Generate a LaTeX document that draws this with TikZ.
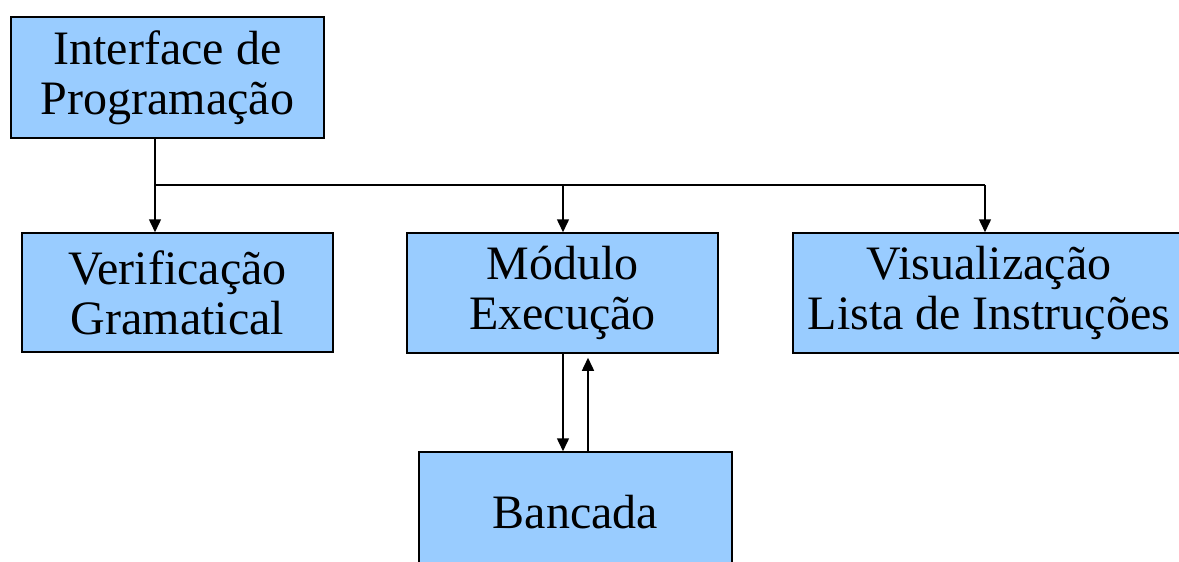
\documentclass[tikz,border=0pt]{standalone}
\usepackage{fontspec}
\setmainfont{Liberation Serif}
\usetikzlibrary{arrows.meta}
\definecolor{boxblue}{HTML}{99CCFF}
\begin{document}
\begin{tikzpicture}[x=1pt,y=-1pt,
  block/.style={draw=black, line width=1.5pt, fill=boxblue, align=center,
    font=\fontsize{48}{50}\selectfont, inner sep=0pt},
  link/.style={line width=1.5pt, -{Triangle[width=12pt,length=13pt]}},
  wire/.style={line width=1.5pt}]
\useasboundingbox (0,0) rectangle (1179,562);
\clip (0,0) rectangle (1179,562);

\node[block, minimum width=313pt, minimum height=121pt] (ip) at (167.5,77.5)
  {Interface de\\Programação};
\node[block, minimum width=311pt, minimum height=119pt] (ver) at (177.5,292.5)
  {Verificação\\Gramatical};
\node[block, minimum width=311pt, minimum height=120pt] (mod) at (562.5,293)
  {Módulo\\Execução};
\node[block, minimum width=392pt, minimum height=120pt] (vis) at (989,293)
  {Visualização\\Lista de Instruções};
\node[block, minimum width=313pt, minimum height=120pt] (ban) at (575.5,512)
  {Bancada};

% branching bus below the programming interface
\coordinate (j) at (155,185);
\coordinate (jm) at (563,185);
\coordinate (jv) at (985,185);
\draw[wire] (j |- ip.south) -- (j) -- (jv);
\draw[link] (j) -- (j |- ver.north);
\draw[link] (jm) -- (jm |- mod.north);
\draw[link] (jv) -- (jv |- vis.north);

% exchange between execution module and workbench
\coordinate (dn) at (563,0);
\coordinate (up) at (588,0);
\draw[link] (dn |- mod.south) -- (dn |- ban.north);
\draw[link] (up |- ban.north) -- ([yshift=-4pt]up |- mod.south);
\end{tikzpicture}
\end{document}
